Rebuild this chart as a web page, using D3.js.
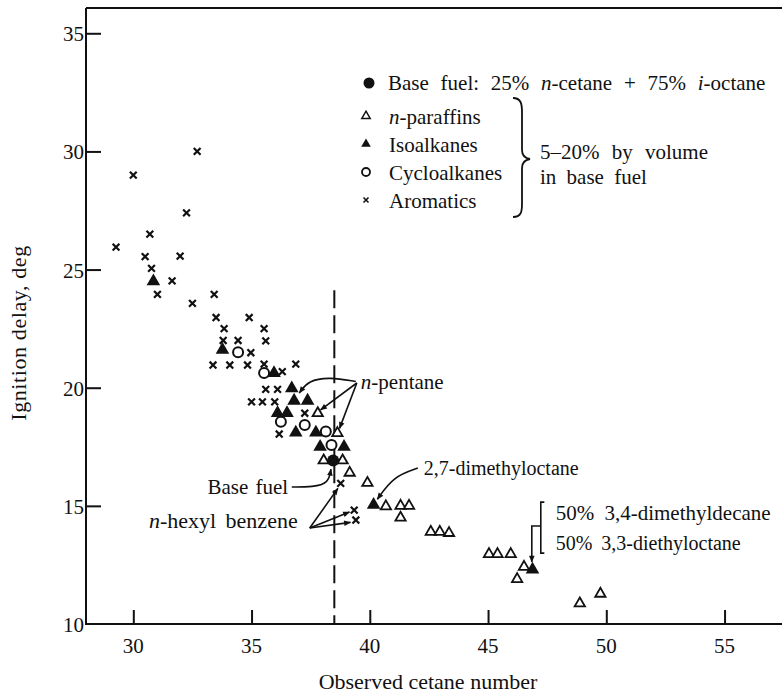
<!DOCTYPE html>
<html>
<head>
<meta charset="utf-8">
<script src="https://cdn.jsdelivr.net/npm/d3@7"></script>
<style>
  body { margin: 0; background: #fff; }
  svg { display: block; }
  text { font-family: "Liberation Serif", "DejaVu Serif", serif; }
</style>
</head>
<body>
<svg id="chart" width="782" height="697" font-family="Liberation Serif, DejaVu Serif, serif"></svg>
<script>
// data: [cetane number, ignition delay]
const baseFuel = [[38.45, 16.92]];

const nParaffins = [
  [37.8, 18.92], [38.63, 18.08], [38.05, 16.92], [38.85, 16.92], [39.15, 16.4],
  [39.9, 15.97], [40.68, 14.98], [41.3, 15.0], [41.66, 15.0], [41.3, 14.5],
  [42.58, 13.9], [42.96, 13.9], [43.35, 13.85], [45.04, 12.96], [45.4, 12.96],
  [45.96, 12.96], [46.52, 12.42], [46.23, 11.9], [48.88, 10.87], [49.75, 11.28]
];

const isoalkanes = [
  [30.85, 24.5], [33.77, 21.6], [35.95, 20.62], [36.7, 19.97], [36.8, 19.45],
  [37.37, 19.45], [36.1, 18.93], [36.5, 18.93], [36.87, 18.1], [37.72, 18.1],
  [37.9, 17.5], [38.91, 17.5], [40.16, 15.04], [46.88, 12.3]
];

const cycloalkanes = [
  [34.43, 21.5], [35.53, 20.62], [36.24, 18.56], [37.25, 18.42], [38.14, 18.15], [38.38, 17.58]
];

const aromatics = [
  [32.7, 30.0], [30.0, 29.0], [32.25, 27.4], [30.7, 26.5], [29.27, 25.95],
  [30.5, 25.55], [31.98, 25.57], [30.77, 25.05], [31.64, 24.52], [31.02, 23.95],
  [32.5, 23.57], [33.42, 23.95], [33.5, 22.97], [34.9, 22.97], [33.84, 22.5],
  [35.53, 22.5], [33.8, 22.0], [34.43, 22.0], [35.6, 21.98], [34.97, 21.48],
  [33.37, 20.96], [34.08, 20.96], [34.83, 20.96], [35.53, 21.0], [36.3, 20.68],
  [36.87, 21.0], [35.6, 19.93], [36.1, 19.93], [35.0, 19.4], [35.46, 19.4],
  [35.98, 19.4], [37.25, 18.92], [36.17, 18.04], [38.77, 15.95], [39.34, 14.82],
  [39.41, 14.4]
];

const xTicks = [30, 35, 40, 45, 50, 55];
const yTicks = [10, 15, 20, 25, 30, 35];

const ink = '#111';
const svg = d3.select('#chart');

const x = d3.scaleLinear().domain([28, 58]).range([86, 795.5]);
const y = d3.scaleLinear().domain([10, 36.07]).range([624, 8]);

// arrowhead
svg.append('defs').append('marker')
   .attr('id', 'arr')
   .attr('viewBox', '0 0 10 10')
   .attr('refX', 9).attr('refY', 5)
   .attr('markerWidth', 9).attr('markerHeight', 7)
   .attr('markerUnits', 'userSpaceOnUse')
   .attr('orient', 'auto')
   .append('path')
   .attr('d', 'M0,1 L10,5 L0,9 Z')
   .attr('fill', ink);

//frame
svg.append('path')
   .attr('d', 'M' + x(28) + ',' + y(36.07) + 'V' + y(10) + 'H782')
   .attr('fill', 'none').attr('stroke', ink).attr('stroke-width', 2);
svg.append('line')
   .attr('x1', x(28)).attr('x2', 782)
   .attr('y1', y(36.07)).attr('y2', y(36.07))
   .attr('stroke', ink).attr('stroke-width', 2);

//axes (ticks point inward)
const xAxis = d3.axisTop(x).tickValues(xTicks).tickSize(14).tickFormat('');
svg.append('g').attr('transform', 'translate(0,' + y(10) + ')').call(xAxis)
   .call(g => g.select('.domain').remove())
   .call(g => g.selectAll('line').attr('stroke', ink).attr('stroke-width', 2));

const yAxis = d3.axisRight(y).tickValues(yTicks.filter(d => d > 10)).tickSize(15).tickFormat('');
svg.append('g').attr('transform', 'translate(' + x(28) + ',0)').call(yAxis)
   .call(g => g.select('.domain').remove())
   .call(g => g.selectAll('line').attr('stroke', ink).attr('stroke-width', 2));

svg.selectAll('.xlab')
   .data(xTicks)
   .enter()
   .append('text')
   .attr('class', 'xlab')
   .text(d => d)
   .attr('x', d => x(d))
   .attr('y', y(10) + 29)
   .attr('text-anchor', 'middle')
   .attr('font-size', 21)
   .attr('fill', ink);

svg.selectAll('.ylab')
   .data(yTicks)
   .enter()
   .append('text')
   .attr('class', 'ylab')
   .text(d => d)
   .attr('x', x(28) - 2)
   .attr('y', d => y(d) + 8)
   .attr('text-anchor', 'end')
   .attr('font-size', 21)
   .attr('fill', ink);

svg.append('text')
   .text('Observed cetane number')
   .attr('x', 428).attr('y', 689)
   .attr('text-anchor', 'middle')
   .attr('font-size', 22)
   .attr('fill', ink);

svg.append('text')
   .text('Ignition delay, deg')
   .attr('transform', 'translate(26,333) rotate(-90)')
   .attr('text-anchor', 'middle')
   .attr('font-size', 22)
   .attr('letter-spacing', 0.6)
   .attr('fill', ink);

//dashed reference line
svg.append('line')
   .attr('x1', x(38.5)).attr('x2', x(38.5))
   .attr('y1', y(24.13)).attr('y2', y(10))
   .attr('stroke', ink).attr('stroke-width', 2)
   .attr('stroke-dasharray', '18,7');

//points
const tri = d3.symbol().type(d3.symbolTriangle);

svg.selectAll('.arom')
   .data(aromatics)
   .enter()
   .append('path')
   .attr('class', 'arom')
   .attr('d', 'M-3.4,-3.4L3.4,3.4M-3.4,3.4L3.4,-3.4')
   .attr('transform', d => 'translate(' + x(d[0]) + ',' + y(d[1]) + ')')
   .attr('stroke', ink).attr('stroke-width', 2.2);

svg.selectAll('.cyc')
   .data(cycloalkanes)
   .enter()
   .append('circle')
   .attr('class', 'cyc')
   .attr('cx', d => x(d[0])).attr('cy', d => y(d[1]))
   .attr('r', 5)
   .attr('fill', '#fff').attr('stroke', ink).attr('stroke-width', 2);

svg.selectAll('.npar')
   .data(nParaffins)
   .enter()
   .append('path')
   .attr('class', 'npar')
   .attr('d', tri.size(46))
   .attr('transform', d => 'translate(' + x(d[0]) + ',' + y(d[1]) + ')')
   .attr('fill', '#fff').attr('stroke', ink).attr('stroke-width', 1.8);

svg.selectAll('.iso')
   .data(isoalkanes)
   .enter()
   .append('path')
   .attr('class', 'iso')
   .attr('d', tri.size(80))
   .attr('transform', d => 'translate(' + x(d[0]) + ',' + y(d[1]) + ')')
   .attr('fill', ink);

svg.selectAll('.base')
   .data(baseFuel)
   .enter()
   .append('circle')
   .attr('class', 'base')
   .attr('cx', d => x(d[0])).attr('cy', d => y(d[1]))
   .attr('r', 6)
   .attr('fill', ink);

//annotation arrows, in data units
const line = d3.line().x(d => x(d[0])).y(d => y(d[1]));
const curvy = d3.line().x(d => x(d[0])).y(d => y(d[1])).curve(d3.curveBasis);

const arrows = [
  { pts: [[39.41, 20.26], [38.3, 20.45], [37.4, 20.3], [37.02, 19.78]], curved: true },
  { pts: [[39.45, 20.2], [37.92, 19.06]] },
  { pts: [[39.45, 20.2], [38.72, 18.28]] },
  { pts: [[36.7, 15.8], [37.6, 15.8], [38.25, 15.95], [38.36, 16.55]], curved: true },
  { pts: [[37.46, 14.06], [38.65, 15.74]] },
  { pts: [[37.46, 14.06], [39.14, 14.74]] },
  { pts: [[37.46, 14.06], [39.18, 14.3]] },
  { pts: [[42.03, 16.6], [41.0, 16.25], [40.32, 15.28]], curved: true },
  { pts: [[47.23, 14.15], [46.85, 14.15], [46.85, 12.62]] }
];

svg.selectAll('.arrow')
   .data(arrows)
   .enter()
   .append('path')
   .attr('class', 'arrow')
   .attr('d', d => d.curved ? curvy(d.pts) : line(d.pts))
   .attr('fill', 'none')
   .attr('stroke', ink).attr('stroke-width', 1.6)
   .attr('marker-end', 'url(#arr)');

//bracket for the 50/50 mix
svg.append('path')
   .attr('d', line([[47.38, 15.16], [47.23, 15.16], [47.23, 13.0], [47.38, 13.0]]))
   .attr('fill', 'none').attr('stroke', ink).attr('stroke-width', 1.6);

//annotation labels
const notes = [
  { pre: 'n', text: '-pentane', at: [39.62, 20.25], anchor: 'start', size: 21, ws: 0 },
  { pre: '', text: 'Base fuel', at: [36.55, 15.8], anchor: 'end', size: 21, ws: 2 },
  { pre: 'n', text: '-hexyl benzene', at: [30.66, 14.36], anchor: 'start', size: 22, ws: 4 },
  { pre: '', text: '2,7-dimethyloctane', at: [42.28, 16.6], anchor: 'start', size: 20, ws: 0 },
  { pre: '', text: '50% 3,4-dimethyldecane', at: [47.86, 14.7], anchor: 'start', size: 21, ws: 5 },
  { pre: '', text: '50% 3,3-diethyloctane', at: [47.86, 13.43], anchor: 'start', size: 20, ws: 4 }
];

const noteSel = svg.selectAll('.note')
   .data(notes)
   .enter()
   .append('text')
   .attr('class', 'note')
   .attr('x', d => x(d.at[0]))
   .attr('y', d => y(d.at[1]) + 7)
   .attr('text-anchor', d => d.anchor)
   .attr('font-size', d => d.size)
   .attr('word-spacing', d => d.ws)
   .attr('fill', ink);
noteSel.append('tspan').attr('font-style', 'italic').text(d => d.pre);
noteSel.append('tspan').text(d => d.text);

//legend
const legend = svg.append('g').attr('fill', ink).attr('font-size', 21);

legend.append('circle').attr('cx', 369).attr('cy', 83).attr('r', 5.5);
const l0 = legend.append('text').attr('x', 388).attr('y', 90).attr('word-spacing', 6.5);
l0.append('tspan').text('Base fuel: 25% ');
l0.append('tspan').attr('font-style', 'italic').text('n');
l0.append('tspan').text('-cetane + 75% ');
l0.append('tspan').attr('font-style', 'italic').text('i');
l0.append('tspan').text('-octane');

const rows = ['n-paraffins', 'Isoalkanes', 'Cycloalkanes', 'Aromatics'];
const rowY = [117, 145, 173, 201];

legend.append('path').attr('d', tri.size(30)).attr('transform', 'translate(366,' + (rowY[0] - 1) + ')')
      .attr('fill', '#fff').attr('stroke', ink).attr('stroke-width', 1.5);
legend.append('path').attr('d', tri.size(40)).attr('transform', 'translate(366,' + (rowY[1] - 1) + ')');
legend.append('circle').attr('cx', 366).attr('cy', rowY[2] - 1).attr('r', 4)
      .attr('fill', '#fff').attr('stroke', ink).attr('stroke-width', 1.8);
legend.append('path').attr('d', 'M-2.5,-2.5L2.5,2.5M-2.5,2.5L2.5,-2.5')
      .attr('transform', 'translate(366,' + (rowY[3] - 1) + ')')
      .attr('stroke', ink).attr('stroke-width', 1.6);

rows.forEach((r, i) => {
  const t = legend.append('text').attr('x', 389).attr('y', rowY[i] + 7);
  if (r.startsWith('n-')) {
    t.append('tspan').attr('font-style', 'italic').text('n');
    t.append('tspan').text(r.slice(1));
  } else {
    t.text(r);
  }
});

legend.append('path')
      .attr('d', 'M513,98 C521,98 522,104 522,112 L522,150 C522,155 524,158 530,159 C524,160 522,163 522,168 L522,204 C522,212 521,217 513,217')
      .attr('fill', 'none').attr('stroke', ink).attr('stroke-width', 1.8);

legend.append('text').attr('x', 540).attr('y', 159).attr('word-spacing', 7).text('5–20% by volume');
legend.append('text').attr('x', 540).attr('y', 184).attr('word-spacing', 5).text('in base fuel');
</script>
</body>
</html>
